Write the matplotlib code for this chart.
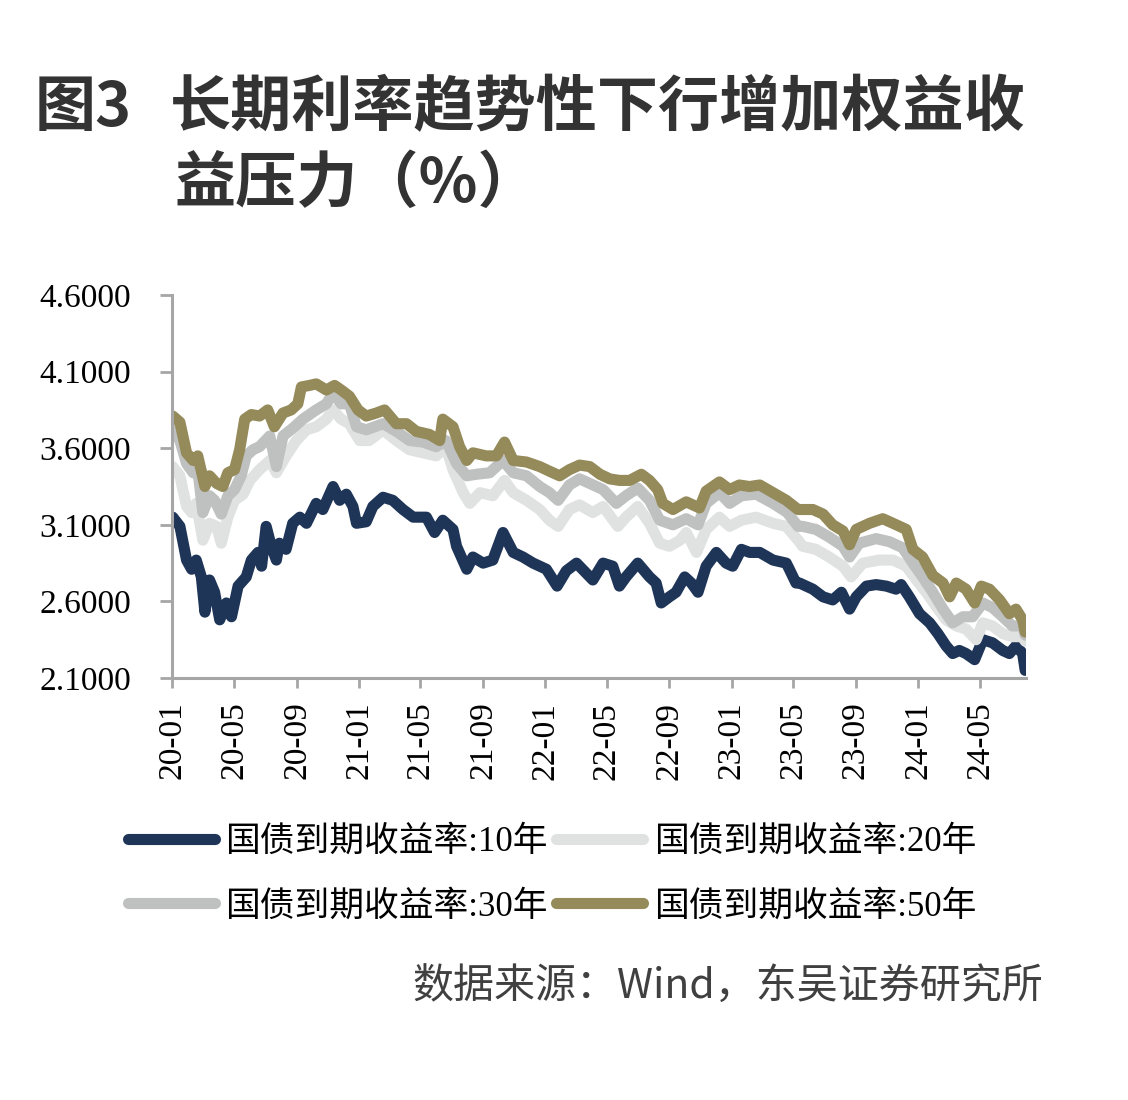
import matplotlib
matplotlib.use('Agg')
import matplotlib.pyplot as plt
import matplotlib.dates as mdates
import pandas as pd

# 国债到期收益率 (%)
dates_10y = ['2020-01-02', '2020-01-16', '2020-01-29', '2020-02-08', '2020-02-17', '2020-02-27', '2020-03-05',
             '2020-03-14', '2020-03-24', '2020-04-03', '2020-04-16', '2020-04-26', '2020-05-09', '2020-05-25',
             '2020-06-04', '2020-06-17', '2020-06-24', '2020-07-03', '2020-07-13', '2020-07-23', '2020-07-29',
             '2020-08-11', '2020-08-24', '2020-09-07', '2020-09-20', '2020-10-09', '2020-10-22', '2020-11-11',
             '2020-11-24', '2020-12-07', '2020-12-20', '2020-12-27', '2021-01-15', '2021-01-28', '2021-02-17',
             '2021-03-08', '2021-03-28', '2021-04-17', '2021-05-13', '2021-05-29', '2021-06-14', '2021-07-04',
             '2021-07-11', '2021-07-31', '2021-08-12', '2021-09-01', '2021-09-20', '2021-10-10', '2021-10-30',
             '2021-11-18', '2021-12-08', '2022-01-03', '2022-01-24', '2022-02-11', '2022-03-03', '2022-04-04',
             '2022-04-24', '2022-05-13', '2022-05-26', '2022-06-08', '2022-07-01', '2022-07-24', '2022-08-06',
             '2022-08-16', '2022-09-01', '2022-09-14', '2022-10-01', '2022-10-14', '2022-10-27', '2022-11-12',
             '2022-12-02', '2022-12-21', '2023-01-03', '2023-01-20', '2023-02-05', '2023-02-25', '2023-03-23',
             '2023-04-18', '2023-04-24', '2023-05-07', '2023-05-14', '2023-06-09', '2023-06-29', '2023-07-18',
             '2023-08-04', '2023-08-20', '2023-09-02', '2023-09-22', '2023-10-11', '2023-10-31', '2023-11-19',
             '2023-11-29', '2023-12-15', '2024-01-04', '2024-01-24', '2024-02-09', '2024-02-25', '2024-03-09',
             '2024-03-22', '2024-04-04', '2024-04-21', '2024-05-07', '2024-05-26', '2024-06-15', '2024-06-28',
             '2024-07-11', '2024-07-24', '2024-07-29']
yield_10y = [3.15, 3.09, 2.87, 2.81, 2.87, 2.76, 2.53,
             2.74, 2.66, 2.48, 2.59, 2.50, 2.70, 2.76,
             2.87, 2.92, 2.83, 3.09, 2.96, 2.87, 2.98,
             2.94, 3.11, 3.15, 3.11, 3.24, 3.20, 3.35,
             3.26, 3.30, 3.22, 3.11, 3.12, 3.22, 3.28,
             3.26, 3.20, 3.15, 3.15, 3.05, 3.13, 3.07,
             2.96, 2.81, 2.89, 2.85, 2.87, 3.05, 2.92,
             2.89, 2.85, 2.81, 2.70, 2.80, 2.85, 2.74,
             2.85, 2.83, 2.70, 2.76, 2.85, 2.76, 2.72,
             2.59, 2.63, 2.66, 2.76, 2.72, 2.66, 2.83,
             2.92, 2.85, 2.83, 2.94, 2.92, 2.92, 2.87,
             2.85, 2.81, 2.72, 2.72, 2.68, 2.63, 2.61,
             2.66, 2.55, 2.63, 2.70, 2.71, 2.70, 2.68,
             2.71, 2.63, 2.52, 2.46, 2.39, 2.31, 2.26,
             2.28, 2.26, 2.22, 2.35, 2.33, 2.28, 2.26,
             2.31, 2.26, 2.15]

dates_20y = ['2020-01-02', '2020-01-16', '2020-01-29', '2020-02-08', '2020-02-17', '2020-03-01', '2020-03-14',
             '2020-03-28', '2020-04-06', '2020-04-19', '2020-05-02', '2020-05-19', '2020-06-01', '2020-06-20',
             '2020-07-10', '2020-07-23', '2020-08-11', '2020-08-31', '2020-09-20', '2020-10-09', '2020-10-29',
             '2020-11-11', '2020-11-27', '2020-12-13', '2021-01-02', '2021-01-21', '2021-02-17', '2021-03-15',
             '2021-04-10', '2021-05-06', '2021-06-01', '2021-06-20', '2021-07-04', '2021-07-24', '2021-08-06',
             '2021-08-26', '2021-09-20', '2021-10-13', '2021-10-30', '2021-11-25', '2021-12-21', '2022-01-09',
             '2022-01-26', '2022-02-17', '2022-03-09', '2022-04-04', '2022-04-24', '2022-05-23', '2022-06-08',
             '2022-07-01', '2022-07-24', '2022-08-13', '2022-09-01', '2022-09-22', '2022-10-04', '2022-10-24',
             '2022-11-12', '2022-12-08', '2022-12-28', '2023-01-20', '2023-02-18', '2023-03-23', '2023-04-18',
             '2023-05-11', '2023-05-20', '2023-06-15', '2023-07-11', '2023-08-07', '2023-08-23', '2023-09-15',
             '2023-10-17', '2023-11-13', '2023-12-09', '2023-12-29', '2024-01-17', '2024-02-05', '2024-02-25',
             '2024-03-16', '2024-04-04', '2024-04-24', '2024-05-07', '2024-05-26', '2024-06-15', '2024-07-04',
             '2024-07-24', '2024-07-29']
yield_20y = [3.48, 3.42, 3.22, 3.18, 3.24, 3.00, 3.11,
             3.09, 2.98, 3.15, 3.26, 3.30, 3.39, 3.46,
             3.52, 3.44, 3.55, 3.65, 3.72, 3.74, 3.79,
             3.85, 3.79, 3.76, 3.65, 3.65, 3.72, 3.65,
             3.59, 3.57, 3.55, 3.61, 3.46, 3.31, 3.24,
             3.31, 3.29, 3.39, 3.31, 3.26, 3.20, 3.13,
             3.09, 3.20, 3.23, 3.18, 3.22, 3.09, 3.15,
             3.22, 3.11, 2.98, 2.96, 3.00, 3.05, 2.92,
             3.07, 3.15, 3.09, 3.13, 3.15, 3.11, 3.09,
             3.00, 2.96, 2.94, 2.89, 2.83, 2.76, 2.85,
             2.87, 2.87, 2.83, 2.74, 2.66, 2.57, 2.48,
             2.44, 2.42, 2.35, 2.46, 2.44, 2.39, 2.37,
             2.37, 2.34]

dates_30y = ['2020-01-02', '2020-01-16', '2020-01-29', '2020-02-11', '2020-02-20', '2020-03-01', '2020-03-14',
             '2020-03-24', '2020-04-06', '2020-04-19', '2020-05-02', '2020-05-15', '2020-05-25', '2020-06-07',
             '2020-06-20', '2020-07-10', '2020-07-23', '2020-08-05', '2020-08-24', '2020-09-13', '2020-10-09',
             '2020-10-29', '2020-11-11', '2020-11-27', '2020-12-13', '2020-12-27', '2021-01-15', '2021-02-17',
             '2021-03-15', '2021-04-10', '2021-05-06', '2021-06-01', '2021-06-20', '2021-07-11', '2021-07-31',
             '2021-08-19', '2021-09-14', '2021-10-10', '2021-10-30', '2021-11-25', '2021-12-21', '2022-01-09',
             '2022-01-26', '2022-02-17', '2022-03-09', '2022-03-29', '2022-04-24', '2022-05-20', '2022-06-08',
             '2022-07-01', '2022-07-24', '2022-08-13', '2022-09-08', '2022-10-04', '2022-10-27', '2022-11-12',
             '2022-12-08', '2022-12-28', '2023-01-20', '2023-02-18', '2023-03-23', '2023-04-20', '2023-05-11',
             '2023-05-20', '2023-06-15', '2023-07-11', '2023-08-07', '2023-08-20', '2023-09-08', '2023-10-11',
             '2023-11-06', '2023-12-02', '2023-12-22', '2024-01-10', '2024-01-30', '2024-02-19', '2024-03-09',
             '2024-03-29', '2024-04-17', '2024-05-07', '2024-05-26', '2024-06-15', '2024-07-04', '2024-07-24',
             '2024-07-29']
yield_30y = [3.72, 3.65, 3.50, 3.44, 3.46, 3.18, 3.29,
             3.26, 3.17, 3.29, 3.33, 3.42, 3.55, 3.59,
             3.61, 3.68, 3.48, 3.68, 3.73, 3.79, 3.85,
             3.89, 3.96, 3.89, 3.89, 3.74, 3.72, 3.76,
             3.71, 3.65, 3.64, 3.61, 3.65, 3.50, 3.42,
             3.43, 3.44, 3.52, 3.44, 3.42, 3.35, 3.31,
             3.26, 3.36, 3.40, 3.37, 3.33, 3.24, 3.29,
             3.34, 3.26, 3.13, 3.10, 3.14, 3.10, 3.24,
             3.31, 3.24, 3.29, 3.30, 3.24, 3.18, 3.09,
             3.09, 3.07, 3.02, 2.96, 2.89, 2.98, 3.01,
             2.99, 2.95, 2.85, 2.76, 2.66, 2.55, 2.46,
             2.50, 2.50, 2.59, 2.56, 2.50, 2.44, 2.44,
             2.38]

dates_50y = ['2020-01-02', '2020-01-16', '2020-01-29', '2020-02-11', '2020-02-20', '2020-03-05', '2020-03-14',
             '2020-03-28', '2020-04-09', '2020-04-19', '2020-05-02', '2020-05-12', '2020-05-22', '2020-06-04',
             '2020-06-20', '2020-07-06', '2020-07-19', '2020-08-05', '2020-08-21', '2020-09-03', '2020-09-10',
             '2020-09-26', '2020-10-09', '2020-10-29', '2020-11-14', '2020-11-27', '2020-12-13', '2020-12-30',
             '2021-01-15', '2021-02-04', '2021-02-20', '2021-03-15', '2021-04-04', '2021-04-23', '2021-05-19',
             '2021-06-08', '2021-06-14', '2021-07-04', '2021-07-17', '2021-07-31', '2021-08-12', '2021-09-07',
             '2021-09-27', '2021-10-13', '2021-10-30', '2021-11-25', '2021-12-21', '2022-01-09', '2022-01-29',
             '2022-02-17', '2022-03-09', '2022-03-29', '2022-04-18', '2022-05-07', '2022-05-26', '2022-06-15',
             '2022-07-08', '2022-07-24', '2022-08-09', '2022-08-19', '2022-09-08', '2022-10-04', '2022-10-30',
             '2022-11-12', '2022-12-08', '2022-12-28', '2023-01-16', '2023-02-05', '2023-02-25', '2023-03-23',
             '2023-04-18', '2023-05-11', '2023-06-09', '2023-06-29', '2023-07-18', '2023-08-07', '2023-08-20',
             '2023-09-02', '2023-09-28', '2023-10-24', '2023-11-13', '2023-12-09', '2023-12-22', '2024-01-10',
             '2024-01-30', '2024-02-19', '2024-03-03', '2024-03-16', '2024-04-04', '2024-04-21', '2024-05-04',
             '2024-05-20', '2024-06-09', '2024-06-28', '2024-07-11', '2024-07-24', '2024-07-29']
yield_50y = [3.81, 3.77, 3.57, 3.52, 3.55, 3.35, 3.42,
             3.37, 3.35, 3.44, 3.46, 3.59, 3.79, 3.82,
             3.81, 3.85, 3.74, 3.83, 3.85, 3.89, 4.00,
             4.01, 4.02, 3.98, 4.01, 3.98, 3.94, 3.85,
             3.81, 3.83, 3.85, 3.76, 3.76, 3.71, 3.69,
             3.65, 3.79, 3.74, 3.61, 3.52, 3.57, 3.55,
             3.55, 3.64, 3.52, 3.51, 3.48, 3.45, 3.42,
             3.46, 3.49, 3.48, 3.43, 3.40, 3.39, 3.39,
             3.43, 3.39, 3.33, 3.24, 3.20, 3.25, 3.21,
             3.32, 3.38, 3.33, 3.36, 3.35, 3.36, 3.31,
             3.26, 3.20, 3.20, 3.17, 3.10, 3.06, 2.97,
             3.07, 3.11, 3.14, 3.11, 3.07, 2.94, 2.89,
             2.77, 2.72, 2.63, 2.72, 2.68, 2.59, 2.70,
             2.68, 2.61, 2.52, 2.55, 2.48, 2.40]

series_labels = ['国债到期收益率:10年', '国债到期收益率:20年', '国债到期收益率:30年', '国债到期收益率:50年']
series_colors = ['#1f3558', '#e0e2e1', '#bfc0c0', '#948a5a']
y_ticks = [2.1, 2.6, 3.1, 3.6, 4.1, 4.6]

plt.rcParams['font.family'] = ['Liberation Serif', 'Noto Sans CJK SC']

fig = plt.figure(figsize=(11.28, 11), dpi=100)
ax = fig.add_axes([0.1527, 0.3836, 0.7566, 0.3482])

all_series = [(dates_10y, yield_10y), (dates_20y, yield_20y), (dates_30y, yield_30y), (dates_50y, yield_50y)]
lines = []
for (d, v), lab, col in zip(all_series, series_labels, series_colors):
    ln, = ax.plot(pd.to_datetime(d), v, color=col, lw=8, label=lab,
                  solid_capstyle='round', solid_joinstyle='round')
    lines.append(ln)

ax.set_xlim(pd.Timestamp('2020-01-01'), pd.Timestamp('2024-07-30'))
ax.set_ylim(2.1, 4.6)
ax.set_yticks(y_ticks)
ax.yaxis.set_major_formatter(plt.FormatStrFormatter('%.4f'))
ax.xaxis.set_major_locator(mdates.MonthLocator(bymonth=[1, 5, 9]))
ax.xaxis.set_major_formatter(mdates.DateFormatter('%y-%m'))

for s in ['top', 'right']:
    ax.spines[s].set_visible(False)
for s in ['left', 'bottom']:
    ax.spines[s].set_color('#a6a6a6')
    ax.spines[s].set_linewidth(2.2)
ax.tick_params(axis='y', length=8.5, width=2, color='#a6a6a6', pad=21, labelsize=24, labelcolor='black')
ax.tick_params(axis='x', length=7, width=2, color='#a6a6a6', pad=10, labelsize=24, labelcolor='black',
               labelrotation=90)

# legend fills column-wise, so order handles to read 10/20 on row 1 and 30/50 on row 2
order = [0, 2, 1, 3]
fig.legend([lines[i] for i in order], [series_labels[i] for i in order],
           loc='upper left', bbox_to_anchor=(0.1135, 0.249), ncol=2, frameon=False, fontsize=25,
           handlelength=2.5, handletextpad=0.3, columnspacing=0.25, labelspacing=0.9,
           borderpad=0, borderaxespad=0)

fig.text(0.031, 0.9018, '图3', fontsize=44, fontweight='bold', color='#333333',
         family='Noto Sans CJK SC', va='center', ha='left')
fig.text(0.1507, 0.9018, '长期利率趋势性下行增加权益收', fontsize=44, fontweight='bold', color='#333333',
         family='Noto Sans CJK SC', va='center', ha='left')
fig.text(0.155, 0.8327, '益压力（%）', fontsize=44, fontweight='bold', color='#333333',
         family='Noto Sans CJK SC', va='center', ha='left')

fig.text(0.9246, 0.1027, '数据来源：Wind，东吴证券研究所', fontsize=29.5, color='#404040',
         family='Noto Sans CJK SC', va='center', ha='right')

fig.savefig('out.png', dpi=100)
